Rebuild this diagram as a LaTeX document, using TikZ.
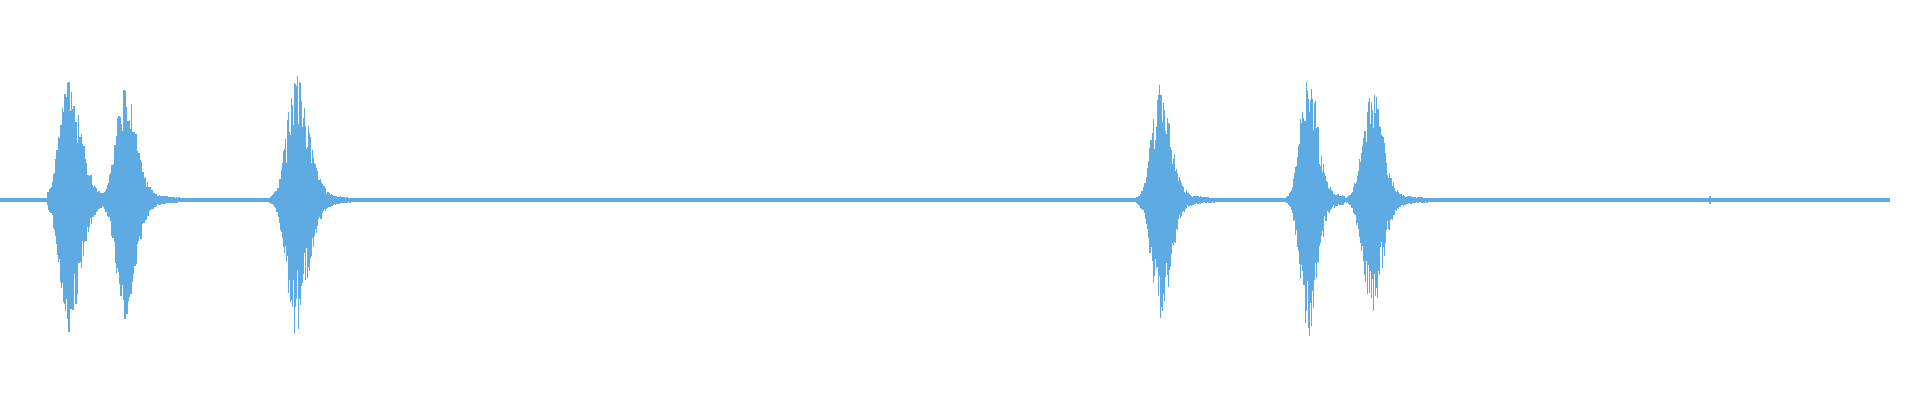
\documentclass[tikz,border=0pt]{standalone}
\definecolor{wave}{RGB}{94,170,226}
\newcommand\wburst[6]{% start, end, peak, wleft, wright, amplitude (px)
\foreach \x in {#1,#1.5,...,#2}{
 \pgfmathsetmacro\d{\x-#3}
 \pgfmathsetmacro\e{(\d<0)*exp(-min((\d/#4)^2,40)) + (\d>=0)*(exp(-min((\d/#5)^2,40))+0.12*exp(-min(\d/25,40)))}
 \pgfmathsetmacro\u{#6*\e*(0.45+0.55*rnd)}
 \pgfmathsetmacro\v{#6*\e*(0.45+0.55*rnd)}
 \draw[wave,line width=0.35pt] (\x*0.01,\u*0.01+0.012) -- (\x*0.01,-\v*0.01-0.012);
}}
\begin{document}
\begin{tikzpicture}
\pgfmathsetseed{7}
\useasboundingbox (0,-2.0) rectangle (19.2,2.0);
\draw[wave,line width=0.9pt] (0,0) -- (18.9,0);
\wburst{48}{200}{68}{12}{17}{118}
\wburst{98}{230}{124}{12}{16}{106}
\wburst{265}{380}{295}{12}{18}{120}
\wburst{1134}{1240}{1160}{11}{15}{110}
\wburst{1286}{1345}{1308}{10}{13}{128}
\wburst{1340}{1440}{1372}{12}{15}{104}
\draw[wave,line width=0.4pt] (17.1,0.04) -- (17.1,-0.04);
\end{tikzpicture}
\end{document}
